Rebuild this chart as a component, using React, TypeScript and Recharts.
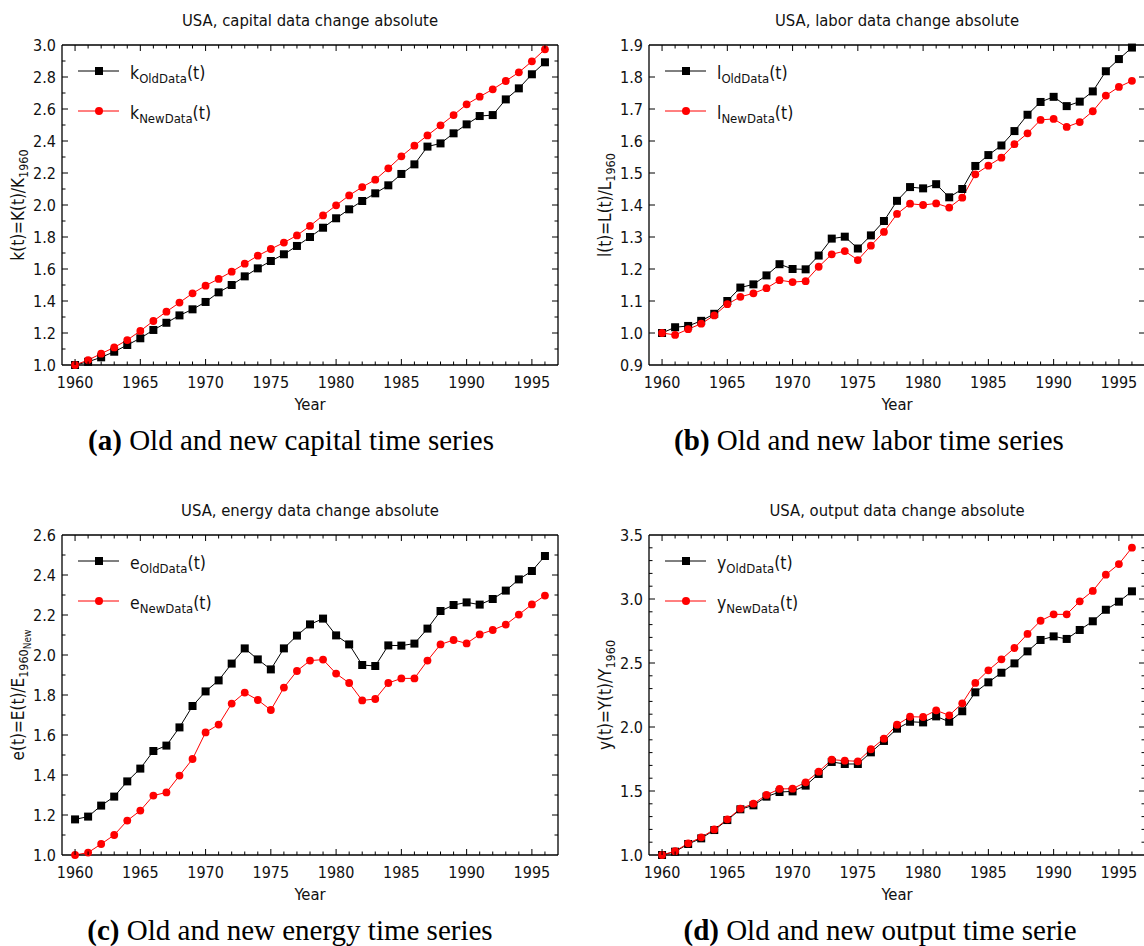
import React from 'react';
import { LineChart, Line, XAxis, YAxis, ReferenceLine, Legend } from 'recharts';

// ---------- data ----------
const years = [
  1960, 1961, 1962, 1963, 1964, 1965, 1966, 1967, 1968, 1969,
  1970, 1971, 1972, 1973, 1974, 1975, 1976, 1977, 1978, 1979,
  1980, 1981, 1982, 1983, 1984, 1985, 1986, 1987, 1988, 1989,
  1990, 1991, 1992, 1993, 1994, 1995, 1996,
];

const capitalOld = [
  1.0, 1.02, 1.048, 1.083, 1.125, 1.167, 1.219, 1.264, 1.31, 1.348,
  1.394, 1.454, 1.5, 1.554, 1.604, 1.65, 1.692, 1.744, 1.8, 1.858,
  1.917, 1.973, 2.025, 2.073, 2.123, 2.194, 2.254, 2.365, 2.385, 2.448,
  2.504, 2.556, 2.562, 2.66, 2.729, 2.817, 2.892,
];
const capitalNew = [
  1.0, 1.031, 1.071, 1.11, 1.156, 1.213, 1.275, 1.333, 1.39, 1.448,
  1.496, 1.538, 1.583, 1.633, 1.683, 1.725, 1.765, 1.81, 1.869, 1.935,
  1.998, 2.06, 2.112, 2.158, 2.229, 2.304, 2.371, 2.435, 2.498, 2.562,
  2.629, 2.677, 2.723, 2.775, 2.829, 2.898, 2.973,
];

const laborOld = [
  1.0, 1.018, 1.022, 1.038, 1.06, 1.1, 1.142, 1.152, 1.18, 1.215,
  1.2, 1.199, 1.242, 1.295, 1.301, 1.264, 1.305, 1.35, 1.413, 1.456,
  1.452, 1.465, 1.424, 1.45, 1.522, 1.556, 1.586, 1.631, 1.682, 1.722,
  1.738, 1.709, 1.723, 1.755, 1.818, 1.856, 1.892,
];
const laborNew = [
  1.0, 0.994, 1.012, 1.029, 1.055, 1.09, 1.113, 1.124, 1.14, 1.165,
  1.159, 1.162, 1.207, 1.246, 1.256, 1.228, 1.273, 1.316, 1.372, 1.404,
  1.4, 1.405, 1.392, 1.423, 1.496, 1.523, 1.548, 1.59, 1.624, 1.666,
  1.669, 1.644, 1.659, 1.693, 1.742, 1.769, 1.788,
];

const energyOld = [
  1.178, 1.192, 1.247, 1.292, 1.368, 1.432, 1.52, 1.547, 1.638, 1.745,
  1.818, 1.873, 1.957, 2.033, 1.978, 1.928, 2.033, 2.097, 2.153, 2.182,
  2.098, 2.053, 1.95, 1.945, 2.048, 2.047, 2.057, 2.132, 2.22, 2.25,
  2.263, 2.252, 2.28, 2.322, 2.378, 2.42, 2.495,
];
const energyNew = [
  1.0, 1.012, 1.055, 1.1, 1.172, 1.222, 1.297, 1.313, 1.397, 1.48,
  1.613, 1.652, 1.757, 1.812, 1.775, 1.725, 1.837, 1.92, 1.972, 1.977,
  1.907, 1.86, 1.773, 1.78, 1.86, 1.883, 1.883, 1.972, 2.053, 2.075,
  2.058, 2.103, 2.125, 2.152, 2.202, 2.253, 2.297,
];

const outputOld = [
  1.0, 1.026, 1.086, 1.13, 1.195, 1.273, 1.357, 1.388, 1.456, 1.492,
  1.497, 1.542, 1.633, 1.727, 1.711, 1.711, 1.802, 1.891, 1.987, 2.041,
  2.036, 2.083, 2.041, 2.123, 2.271, 2.349, 2.424, 2.497, 2.591, 2.68,
  2.708, 2.688, 2.758, 2.826, 2.916, 2.979, 3.06,
];
const outputNew = [
  1.0, 1.03, 1.091, 1.138, 1.2, 1.279, 1.362, 1.401, 1.469, 1.516,
  1.518, 1.568, 1.651, 1.745, 1.737, 1.732, 1.826, 1.909, 2.018, 2.08,
  2.078, 2.13, 2.091, 2.185, 2.344, 2.443, 2.529, 2.617, 2.727, 2.83,
  2.88, 2.88, 2.982, 3.063, 3.19, 3.273, 3.401,
];

// tick labels
const xLabelYears = [1960, 1965, 1970, 1975, 1980, 1985, 1990, 1995];
const xDomain = [1959, 1997];
const capitalYLabels = [1.0, 1.2, 1.4, 1.6, 1.8, 2.0, 2.2, 2.4, 2.6, 2.8, 3.0];
const laborYLabels = [0.9, 1.0, 1.1, 1.2, 1.3, 1.4, 1.5, 1.6, 1.7, 1.8, 1.9];
const energyYLabels = [1.0, 1.2, 1.4, 1.6, 1.8, 2.0, 2.2, 2.4, 2.6];
const outputYLabels = [1.0, 1.5, 2.0, 2.5, 3.0, 3.5];

// texts
const panelTitles = [
  'USA, capital data change absolute',
  'USA, labor data change absolute',
  'USA, energy data change absolute',
  'USA, output data change absolute',
];
const captionTags = ['(a)', '(b)', '(c)', '(d)'];
const captionTexts = [
  'Old and new capital time series',
  'Old and new labor time series',
  'Old and new energy time series',
  'Old and new output time serie',
];

// ---------- layout ----------
const SANS = "'DejaVu Sans Condensed', 'DejaVu Sans', sans-serif";
const SERIF = "'Liberation Serif', 'DejaVu Serif', serif";
const CHART_W = 570;
const CHART_H = 400;
const P_LEFT = 62;
const P_TOP = 45;
const P_RIGHT = 558;
const P_BOTTOM = 365;
const TXT = '#111';

function steps(from: number, to: number, step: number): number[] {
  const n = Math.round((to - from) / step);
  const out: number[] = [];
  for (let i = 0; i <= n; i++) out.push(+(from + i * step).toFixed(4));
  return out;
}
const isIn = (v: number, list: number[]) => list.some((b) => Math.abs(b - v) < 1e-6);

type PanelCfg = {
  left: number;
  top: number;
  title: string;
  tag: string;
  caption: string;
  captionX: number;
  letter: string;
  yMainLetter: string;
  yExtraSub?: string;
  oldVals: number[];
  newVals: number[];
  yLabels: number[];
  yMinorStep: number;
};

function Panel({ cfg }: { cfg: PanelCfg }) {
  const data = years.map((year, i) => ({ year, old: cfg.oldVals[i], neu: cfg.newVals[i] }));
  const yMin = cfg.yLabels[0];
  const yMax = cfg.yLabels[cfg.yLabels.length - 1];
  const yTicks = steps(yMin, yMax, cfg.yMinorStep);
  const xTicks = steps(xDomain[0], xDomain[1], 1);

  const renderXTick = (p: any) => {
    const x = p.x;
    const v = Math.round(p.payload.value);
    const major = v % 5 === 0;
    const len = major ? 6 : 3.5;
    const edge = v === xDomain[0] || v === xDomain[1];
    return (
      <g>
        {!edge && <line x1={x} x2={x} y1={P_BOTTOM} y2={P_BOTTOM - len} stroke="#000" strokeWidth={1} />}
        {!edge && <line x1={x} x2={x} y1={P_TOP} y2={P_TOP + len} stroke="#000" strokeWidth={1} />}
        {isIn(v, xLabelYears) && (
          <text x={x} y={P_BOTTOM + 23} textAnchor="middle" fontFamily={SANS} fontSize={16} fill={TXT}>
            {v}
          </text>
        )}
      </g>
    );
  };

  const renderYTick = (p: any) => {
    const y = p.y;
    const v = p.payload.value;
    const major = isIn(v, cfg.yLabels);
    const len = major ? 6 : 3.5;
    const edge = Math.abs(v - yMin) < 1e-6 || Math.abs(v - yMax) < 1e-6;
    return (
      <g>
        {!edge && <line x1={P_LEFT} x2={P_LEFT + len} y1={y} y2={y} stroke="#000" strokeWidth={1} />}
        {!edge && <line x1={P_RIGHT} x2={P_RIGHT - len} y1={y} y2={y} stroke="#000" strokeWidth={1} />}
        {major && (
          <text x={P_LEFT - 6} y={y + 5.5} textAnchor="end" fontFamily={SANS} fontSize={16} fill={TXT}>
            {v.toFixed(1)}
          </text>
        )}
      </g>
    );
  };

  const squareDot = (p: any) => (
    <rect key={`sq-${p.index}`} x={p.cx - 4} y={p.cy - 4} width={8} height={8} fill="#000" />
  );

  const renderLegend = () => {
    const rows = [
      { sub: 'OldData', color: '#000', square: true },
      { sub: 'NewData', color: '#ff0000', square: false },
    ];
    return (
      <svg width={210} height={80} style={{ display: 'block' }}>
        {rows.map((r, i) => {
          const cy = 16 + i * 40;
          return (
            <g key={r.sub}>
              <line x1={8} x2={49} y1={cy} y2={cy} stroke={r.color} strokeWidth={1} />
              {r.square ? (
                <rect x={25} y={cy - 4} width={8} height={8} fill={r.color} />
              ) : (
                <circle cx={29} cy={cy} r={4} fill={r.color} />
              )}
              <text x={60} y={cy + 8} fontFamily={SANS} fontSize={17.5} fill={TXT}>
                {cfg.letter}
                <tspan dy={4} fontSize={13}>{r.sub}</tspan>
                <tspan dy={-4}>(t)</tspan>
              </text>
            </g>
          );
        })}
      </svg>
    );
  };

  const midX = (P_LEFT + P_RIGHT) / 2;
  const midY = (P_TOP + P_BOTTOM) / 2;

  return (
    <div style={{ position: 'absolute', left: cfg.left, top: cfg.top, width: CHART_W, height: 490 }}>
      <LineChart
        width={CHART_W}
        height={CHART_H}
        data={data}
        margin={{ top: P_TOP, right: CHART_W - P_RIGHT, bottom: 0, left: 0 }}
      >
        <XAxis
          dataKey="year"
          type="number"
          domain={xDomain}
          ticks={xTicks}
          interval={0}
          height={CHART_H - P_BOTTOM}
          tickLine={false}
          tickSize={0}
          tick={renderXTick}
          axisLine={{ stroke: '#000', strokeWidth: 1.3 }}
        />
        <YAxis
          type="number"
          domain={[yMin, yMax]}
          ticks={yTicks}
          interval={0}
          width={P_LEFT}
          tickLine={false}
          tickSize={0}
          tick={renderYTick}
          axisLine={{ stroke: '#000', strokeWidth: 1.3 }}
        />
        <ReferenceLine y={yMax} stroke="#000" strokeWidth={1.3} />
        <ReferenceLine x={xDomain[1]} stroke="#000" strokeWidth={1.3} />
        <Line
          dataKey="old"
          name={`${cfg.letter}OldData(t)`}
          stroke="#000"
          strokeWidth={1}
          dot={squareDot}
          activeDot={false}
          isAnimationActive={false}
        />
        <Line
          dataKey="neu"
          name={`${cfg.letter}NewData(t)`}
          stroke="#ff0000"
          strokeWidth={1}
          dot={{ r: 3.9, fill: '#ff0000', stroke: 'none' }}
          activeDot={false}
          isAnimationActive={false}
        />
        <Legend
          layout="vertical"
          align="center"
          verticalAlign="middle"
          wrapperStyle={{ left: 70, top: 55, width: 210, height: 80 }}
          content={renderLegend}
        />
      </LineChart>
      <svg
        width={CHART_W}
        height={490}
        style={{ position: 'absolute', left: 0, top: 0, pointerEvents: 'none' }}
      >
        <text x={midX} y={26} textAnchor="middle" fontFamily={SANS} fontSize={16.5} fill={TXT}>
          {cfg.title}
        </text>
        <text
          transform={`translate(24, ${midY}) rotate(-90)`}
          textAnchor="middle"
          fontFamily={SANS}
          fontSize={17}
          fill={TXT}
        >
          {`${cfg.yMainLetter.toLowerCase()}(t)=${cfg.yMainLetter}(t)/${cfg.yMainLetter}`}
          <tspan dy={4} fontSize={12.5}>1960</tspan>
          {cfg.yExtraSub ? (
            <tspan dy={3} fontSize={10}>{cfg.yExtraSub}</tspan>
          ) : null}
        </text>
        <text x={midX} y={410} textAnchor="middle" fontFamily={SANS} fontSize={16.5} fill={TXT}>
          Year
        </text>
        <text
          x={cfg.captionX}
          y={450}
          textAnchor="middle"
          fontFamily={SERIF}
          fontSize={29}
          fill="#000"
          style={{ whiteSpace: 'pre' }}
        >
          <tspan fontWeight="bold">{cfg.tag}</tspan>
          <tspan>{' ' + cfg.caption}</tspan>
        </text>
      </svg>
    </div>
  );
}

const panels: PanelCfg[] = [
  {
    left: 0, top: 0, title: panelTitles[0], tag: captionTags[0], caption: captionTexts[0], captionX: 291,
    letter: 'k', yMainLetter: 'K', oldVals: capitalOld, newVals: capitalNew,
    yLabels: capitalYLabels, yMinorStep: 0.1,
  },
  {
    left: 587, top: 0, title: panelTitles[1], tag: captionTags[1], caption: captionTexts[1], captionX: 282,
    letter: 'l', yMainLetter: 'L', oldVals: laborOld, newVals: laborNew,
    yLabels: laborYLabels, yMinorStep: 0.1,
  },
  {
    left: 0, top: 490, title: panelTitles[2], tag: captionTags[2], caption: captionTexts[2], captionX: 290,
    letter: 'e', yMainLetter: 'E', yExtraSub: 'New', oldVals: energyOld, newVals: energyNew,
    yLabels: energyYLabels, yMinorStep: 0.1,
  },
  {
    left: 587, top: 490, title: panelTitles[3], tag: captionTags[3], caption: captionTexts[3], captionX: 293,
    letter: 'y', yMainLetter: 'Y', oldVals: outputOld, newVals: outputNew,
    yLabels: outputYLabels, yMinorStep: 0.1,
  },
];

export default function App() {
  return (
    <div
      style={{
        position: 'absolute',
        left: 0,
        top: 0,
        width: 1144,
        height: 946,
        overflow: 'hidden',
        background: '#fff',
      }}
    >
      {panels.map((cfg, i) => (
        <Panel key={i} cfg={cfg} />
      ))}
    </div>
  );
}
